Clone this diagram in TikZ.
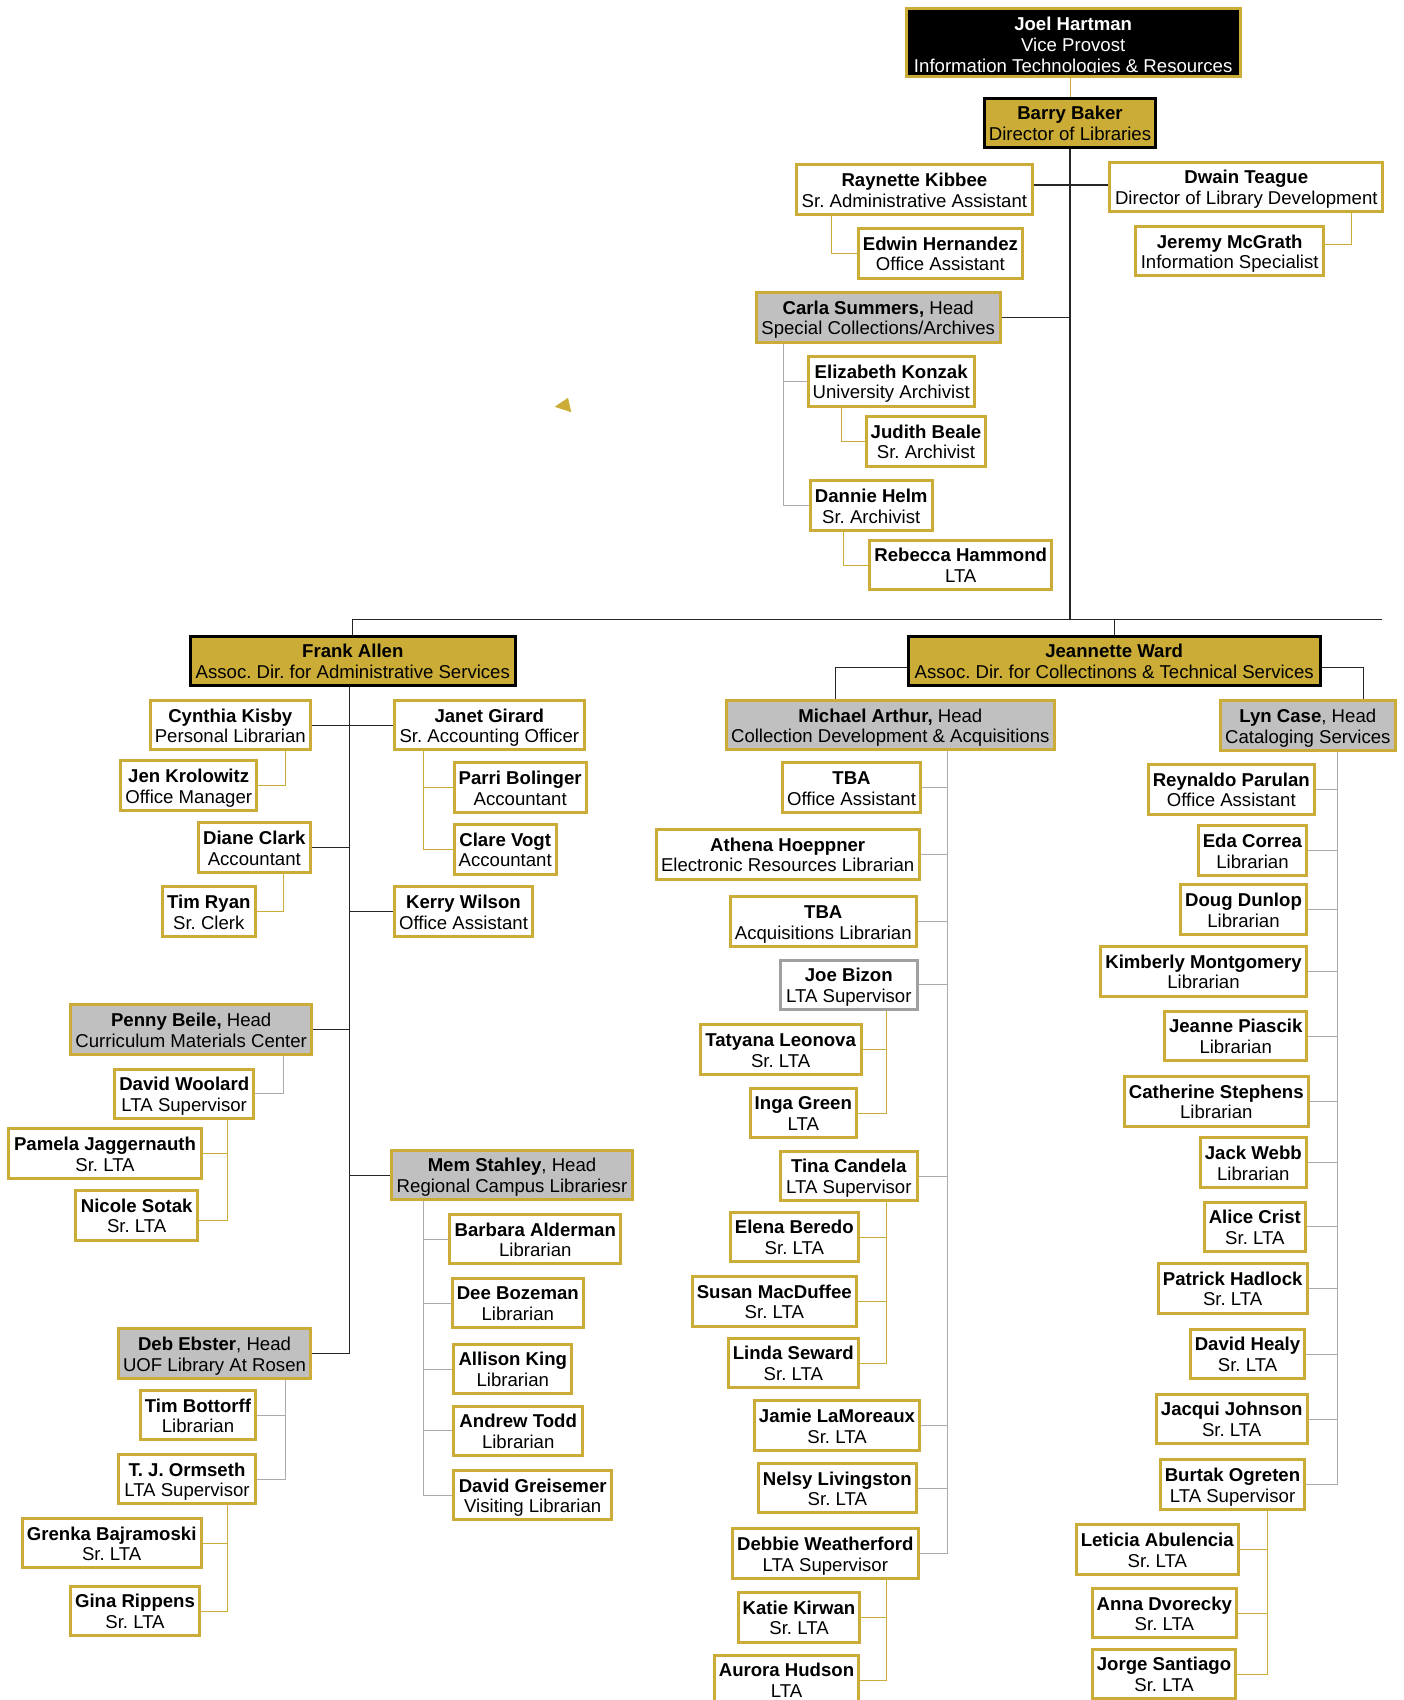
\documentclass[tikz,border=0pt]{standalone}
\usepackage{fontspec}
\setmainfont{Liberation Sans}
\usetikzlibrary{backgrounds}

\definecolor{orggold}{RGB}{202,172,54}
\definecolor{headgray}{RGB}{192,192,192}
\definecolor{framegray}{RGB}{160,160,160}
\newcommand{\orgfont}{\fontsize{18.6}{20.8}\selectfont\frenchspacing}
\newcommand{\orgwho}[3][]{\rule{0pt}{14.5pt}\textbf{#2}#1\\\raisebox{0pt}[\height][0pt]{#3}}

\begin{document}
\begin{tikzpicture}[x=1pt, y=-1pt,
	staffbox/.style={draw=orggold, line width=3pt, fill=white, align=center, inner sep=0pt, minimum height=49.5pt, font=\orgfont},
	headbox/.style={staffbox, fill=headgray},
	deanbox/.style={staffbox, fill=orggold, draw=black},
	grayframe/.style={staffbox, draw=framegray},
	trunkline/.style={draw=black!85, line width=1.2pt},
	teamline/.style={draw=black!33, line width=1pt},
	goldline/.style={draw=orggold, line width=1pt}]
	\useasboundingbox (0,0) rectangle (1403,1700);

	% top of the chart
	\node[staffbox, fill=black, minimum width=334pt, minimum height=67.5pt,
		path picture={
			\clip (path picture bounding box.north west) rectangle ([yshift=4pt]path picture bounding box.south east);
			\node[anchor=north, align=center, text=white, draw=none, fill=none, inner sep=0pt, minimum width=0pt, minimum height=0pt, font=\orgfont]
				at ([yshift=-6pt]path picture bounding box.north)
				{\rule{0pt}{14.5pt}\textbf{Joel Hartman}\\Vice Provost\\Information Technologies \& Resources};
		}] (hartman) at (1073.2,42.5) {};
	\node[deanbox, minimum width=171.6pt] (barry) at (1070,123.1) {\orgwho{Barry Baker}{Director of Libraries}};
	\node[staffbox, minimum width=236.3pt] (raynette) at (914.4,189.5) {\orgwho{Raynette Kibbee}{Sr. Administrative Assistant}};
	\node[staffbox, minimum width=164.3pt] (edwin) at (940.4,253.3) {\orgwho{Edwin Hernandez}{Office Assistant}};
	\node[staffbox, minimum width=273pt] (dwain) at (1246.3,187.1) {\orgwho{Dwain Teague}{Director of Library Development}};
	\node[staffbox, minimum width=187.7pt] (jeremy) at (1229.7,251.2) {\orgwho{Jeremy McGrath}{Information Specialist}};

	% special collections
	\node[headbox, minimum width=244pt] (carla) at (878.2,317.3) {\orgwho[ Head]{Carla Summers,}{Special Collections/Archives}};
	\node[staffbox, minimum width=166pt] (elizabeth) at (891.2,381.3) {\orgwho{Elizabeth Konzak}{University Archivist}};
	\node[staffbox, minimum width=119.6pt] (judith) at (926,441.3) {\orgwho{Judith Beale}{Sr. Archivist}};
	\node[staffbox, minimum width=122pt] (dannie) at (871.2,505.5) {\orgwho{Dannie Helm}{Sr. Archivist}};
	\node[staffbox, minimum width=182pt] (rebecca) at (960.7,565) {\orgwho{Rebecca Hammond}{LTA}};
	\fill[orggold] (554.7,406.8) -- (568,397.8) -- (571.3,412.2) -- cycle;

	% associate directors
	\node[deanbox, minimum width=325.3pt] (frank) at (352.8,661) {\orgwho{Frank Allen}{Assoc. Dir. for Administrative Services}};
	\node[deanbox, minimum width=412pt] (jeannette) at (1114.2,661) {\orgwho{Jeannette Ward}{Assoc. Dir. for Collectinons \& Technical Services}};

	% administrative services
	\node[staffbox, minimum width=159.7pt] (cynthia) at (230.3,725.2) {\orgwho{Cynthia Kisby}{Personal Librarian}};
	\node[staffbox, minimum width=136.3pt] (jen) at (188.7,785.4) {\orgwho{Jen Krolowitz}{Office Manager}};
	\node[staffbox, minimum width=111.7pt] (diane) at (254.3,847.4) {\orgwho{Diane Clark}{Accountant}};
	\node[staffbox, minimum width=92.7pt] (timryan) at (208.8,911.4) {\orgwho{Tim Ryan}{Sr. Clerk}};
	\node[staffbox, minimum width=190.3pt] (janet) at (489.3,725.2) {\orgwho{Janet Girard}{Sr. Accounting Officer}};
	\node[staffbox, minimum width=132pt] (parri) at (520.2,787.4) {\orgwho{Parri Bolinger}{Accountant}};
	\node[staffbox, minimum width=102pt] (clare) at (505.2,849.3) {\orgwho{Clare Vogt}{Accountant}};
	\node[staffbox, minimum width=138.6pt] (kerry) at (463.5,911.4) {\orgwho{Kerry Wilson}{Office Assistant}};
	\node[headbox, minimum width=241.3pt] (penny) at (191.2,1029.5) {\orgwho[ Head]{Penny Beile,}{Curriculum Materials Center}};
	\node[staffbox, minimum width=139.3pt] (woolard) at (184.2,1093.9) {\orgwho{David Woolard}{LTA Supervisor}};
	\node[staffbox, minimum width=192.4pt] (pamela) at (105,1153.5) {\orgwho{Pamela Jaggernauth}{Sr. LTA}};
	\node[staffbox, minimum width=121.7pt] (nicole) at (136.7,1215.3) {\orgwho{Nicole Sotak}{Sr. LTA}};
	\node[headbox, minimum width=241pt] (mem) at (512,1175.1) {\orgwho[, Head]{Mem Stahley}{Regional Campus Librariesr}};
	\node[staffbox, minimum width=171pt] (barbara) at (535.3,1239.2) {\orgwho{Barbara Alderman}{Librarian}};
	\node[staffbox, minimum width=131.3pt] (dee) at (517.8,1303) {\orgwho{Dee Bozeman}{Librarian}};
	\node[staffbox, minimum width=118pt] (allison) at (512.8,1369) {\orgwho{Allison King}{Librarian}};
	\node[staffbox, minimum width=128.7pt] (andrew) at (518.2,1430.8) {\orgwho{Andrew Todd}{Librarian}};
	\node[staffbox, minimum width=157.7pt] (greisemer) at (532.7,1495.2) {\orgwho{David Greisemer}{Visiting Librarian}};
	\node[headbox, minimum width=192.6pt] (deb) at (214.5,1353.6) {\orgwho[, Head]{Deb Ebster}{UOF Library At Rosen}};
	\node[staffbox, minimum width=115.6pt] (bottorff) at (198,1415.2) {\orgwho{Tim Bottorff}{Librarian}};
	\node[staffbox, minimum width=137.6pt] (ormseth) at (187,1479.2) {\orgwho{T. J. Ormseth}{LTA Supervisor}};
	\node[staffbox, minimum width=179pt] (grenka) at (111.7,1543.2) {\orgwho{Grenka Bajramoski}{Sr. LTA}};
	\node[staffbox, minimum width=129pt] (gina) at (135,1611) {\orgwho{Gina Rippens}{Sr. LTA}};

	% collection development
	\node[headbox, minimum width=328.3pt] (michael) at (890.3,725.2) {\orgwho[ Head]{Michael Arthur,}{Collection Development \& Acquisitions}};
	\node[staffbox, minimum width=138.6pt] (tbaoffice) at (851.5,787.4) {\orgwho{TBA}{Office Assistant}};
	\node[staffbox, minimum width=263pt] (athena) at (787.7,854.3) {\orgwho{Athena Hoeppner}{Electronic Resources Librarian}};
	\node[staffbox, minimum width=186.3pt] (tbaacq) at (823.3,921.5) {\orgwho{TBA}{Acquisitions Librarian}};
	\node[grayframe, minimum width=137.3pt] (bizon) at (848.8,984.8) {\orgwho{Joe Bizon}{LTA Supervisor}};
	\node[staffbox, minimum width=161pt] (tatyana) at (780.7,1049.4) {\orgwho{Tatyana Leonova}{Sr. LTA}};
	\node[staffbox, minimum width=105.7pt] (inga) at (803.3,1113) {\orgwho{Inga Green}{LTA}};
	\node[staffbox, minimum width=137.3pt] (tina) at (848.8,1176) {\orgwho{Tina Candela}{LTA Supervisor}};
	\node[staffbox, minimum width=128.3pt] (elena) at (794.3,1237.1) {\orgwho{Elena Beredo}{Sr. LTA}};
	\node[staffbox, minimum width=164.3pt] (susan) at (774.3,1301.3) {\orgwho{Susan MacDuffee}{Sr. LTA}};
	\node[staffbox, minimum width=130.3pt] (linda) at (793.3,1363) {\orgwho{Linda Seward}{Sr. LTA}};
	\node[staffbox, minimum width=165.6pt] (jamie) at (837,1425.5) {\orgwho{Jamie LaMoreaux}{Sr. LTA}};
	\node[staffbox, minimum width=158.3pt] (nelsy) at (837.3,1488.2) {\orgwho{Nelsy Livingston}{Sr. LTA}};
	\node[staffbox, minimum width=186.3pt] (debbie) at (825.3,1553.5) {\orgwho{Debbie Weatherford}{LTA Supervisor}};
	\node[staffbox, minimum width=121.6pt] (katie) at (799,1617.3) {\orgwho{Katie Kirwan}{Sr. LTA}};
	\node[staffbox, minimum width=144pt] (aurora) at (786.5,1680) {\orgwho{Aurora Hudson}{LTA}};

	% cataloging
	\node[headbox, minimum width=175.3pt] (lyn) at (1307.8,725.4) {\orgwho[, Head]{Lyn Case}{Cataloging Services}};
	\node[staffbox, minimum width=166.3pt] (reynaldo) at (1231.3,789.3) {\orgwho{Reynaldo Parulan}{Office Assistant}};
	\node[staffbox, minimum width=108pt] (eda) at (1252.5,850.7) {\orgwho{Eda Correa}{Librarian}};
	\node[staffbox, minimum width=126pt] (doug) at (1243.5,909.6) {\orgwho{Doug Dunlop}{Librarian}};
	\node[staffbox, minimum width=206pt] (kimberly) at (1203.5,971.3) {\orgwho{Kimberly Montgomery}{Librarian}};
	\node[staffbox, minimum width=142.3pt] (piascik) at (1235.7,1036) {\orgwho{Jeanne Piascik}{Librarian}};
	\node[staffbox, minimum width=183.7pt] (catherine) at (1216.3,1101.3) {\orgwho{Catherine Stephens}{Librarian}};
	\node[staffbox, minimum width=106.3pt] (webb) at (1253.3,1162.7) {\orgwho{Jack Webb}{Librarian}};
	\node[staffbox, minimum width=101.3pt] (crist) at (1254.8,1226.8) {\orgwho{Alice Crist}{Sr. LTA}};
	\node[staffbox, minimum width=149pt] (hadlock) at (1232.7,1288.3) {\orgwho{Patrick Hadlock}{Sr. LTA}};
	\node[staffbox, minimum width=114.6pt] (healy) at (1247.5,1354.1) {\orgwho{David Healy}{Sr. LTA}};
	\node[staffbox, minimum width=151pt] (jacqui) at (1231.7,1419) {\orgwho{Jacqui Johnson}{Sr. LTA}};
	\node[staffbox, minimum width=144.6pt] (burtak) at (1232.5,1484.5) {\orgwho{Burtak Ogreten}{LTA Supervisor}};
	\node[staffbox, minimum width=162.3pt] (leticia) at (1157.3,1549.4) {\orgwho{Leticia Abulencia}{Sr. LTA}};
	\node[staffbox, minimum width=144.3pt] (anna) at (1164.3,1613.2) {\orgwho{Anna Dvorecky}{Sr. LTA}};
	\node[staffbox, minimum width=143.6pt] (jorge) at (1164,1674) {\orgwho{Jorge Santiago}{Sr. LTA}};

	\begin{pgfonlayer}{background}
		% director level
		\coordinate (hub) at (1071,619.4);
		\coordinate (barend) at (1381.7,619.4);
		\draw[goldline] (hartman.south -| barry.north) -- (barry.north);
		\draw[trunkline] (barry.south) -- (barry.south |- hub);
		\draw[trunkline] ([yshift=4.5pt]raynette.east) -- ([yshift=4.5pt]raynette.east -| dwain.west);
		\draw[trunkline] (carla.east) -- (carla.east -| barry.south);
		\draw[goldline] ([xshift=36.6pt]raynette.south west) |- (edwin.west);
		\draw[goldline] ([xshift=-33pt]dwain.south east) |- ([yshift=6.4pt]jeremy.east);
		\foreach \k in {elizabeth,dannie}
			\draw[teamline] ([xshift=28.6pt]carla.south west) |- (\k.west);
		\draw[goldline] ([xshift=34.6pt]elizabeth.south west) |- (judith.west);
		\draw[goldline] ([xshift=35pt]dannie.south west) |- (rebecca.west);
		\draw[trunkline] (frank.north) |- (barend);
		\draw[trunkline] (jeannette.north) -- (jeannette.north |- hub);

		% administrative services
		\coordinate (fspine) at ([xshift=-3.5pt]frank.south);
		\draw[trunkline] (fspine) |- (deb.east);
		\draw[trunkline] (cynthia.east) -- (janet.west);
		\draw[trunkline] (diane.east) -- (diane.east -| fspine);
		\draw[trunkline] (kerry.west) -- (kerry.west -| fspine);
		\draw[trunkline] (penny.east) -- (penny.east -| fspine);
		\draw[trunkline] (mem.west) -- (mem.west -| fspine);
		\draw[goldline] ([xshift=-26.4pt]cynthia.south east) |- (jen.east);
		\draw[goldline] ([xshift=-28.4pt]diane.south east) |- (timryan.east);
		\foreach \k in {parri,clare}
			\draw[goldline] ([xshift=30.6pt]janet.south west) |- (\k.west);
		\draw[teamline] ([xshift=-30pt]penny.south east) |- (woolard.east);
		\draw[goldline] ([xshift=-27.6pt]woolard.south east) |- (pamela.east);
		\draw[goldline] ([xshift=-27.6pt]woolard.south east) |- ([yshift=-5.6pt]nicole.east);
		\foreach \k in {barbara,dee,allison,andrew,greisemer}
			\draw[teamline] ([xshift=33.3pt]mem.south west) |- (\k.west);
		\foreach \k in {bottorff,ormseth}
			\draw[teamline] ([xshift=-27pt]deb.south east) |- (\k.east);
		\foreach \k in {grenka,gina}
			\draw[goldline] ([xshift=-29.6pt]ormseth.south east) |- (\k.east);

		% collections and technical services
		\draw[trunkline] ([yshift=-6.2pt]jeannette.west) -| ([xshift=-55pt]michael.north);
		\draw[trunkline] ([yshift=-6.2pt]jeannette.east) -| ([xshift=55.5pt]lyn.north);
		\coordinate (mspine) at ([xshift=-108.7pt]michael.south east);
		\draw[teamline] (mspine) |- (debbie.east);
		\foreach \k in {tbaoffice,athena,tbaacq,bizon,tina,jamie,nelsy}
			\draw[teamline] (\k.east) -- (\k.east -| mspine);
		\foreach \k in {tatyana,inga}
			\draw[goldline] ([xshift=-32pt]bizon.south east) |- (\k.east);
		\foreach \k in {elena,susan,linda}
			\draw[goldline] ([xshift=-32pt]tina.south east) |- (\k.east);
		\foreach \k in {katie,aurora}
			\draw[goldline] ([xshift=-33pt]debbie.south east) |- (\k.east);
		\coordinate (lspine) at ([xshift=-59.7pt]lyn.south east);
		\draw[teamline] (lspine) |- (burtak.east);
		\foreach \k in {reynaldo,eda,doug,kimberly,piascik,catherine,webb,crist,hadlock,healy,jacqui}
			\draw[teamline] (\k.east) -- (\k.east -| lspine);
		\foreach \k in {leticia,anna,jorge}
			\draw[goldline] ([xshift=-39pt]burtak.south east) |- (\k.east);
	\end{pgfonlayer}
\end{tikzpicture}
\end{document}
